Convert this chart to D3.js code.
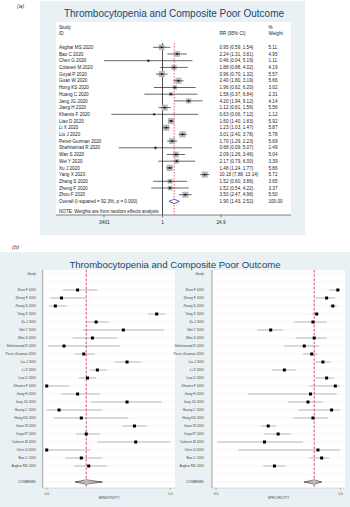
<!DOCTYPE html>
<html><head><meta charset="utf-8">
<script src="https://cdn.jsdelivr.net/npm/d3@7"></script>
<style>
html,body{margin:0;padding:0;background:#fff;}
svg{display:block;font-family:"Liberation Sans",Arial,sans-serif;}
</style></head>
<body>
<svg id="c" width="350" height="507"></svg>
<script>
// ---------- Panel (a) data ----------
const studiesA = ["Asghar MS 2020","Bao C 2020","Chen G 2020","Colaneri M 2020","Goyal P 2020","Guan W 2020","Hong KS 2020","Huang C 2020","Jang JG 2020","Jiang H 2020","Khamis F 2020","Liao D 2020","Li X 2020","Liu J 2020","Perez-Guzman 2020","Shahriarirad R 2020","Wan S 2020","Wei Y 2020","Xu J 2020","Yang X 2020","Zhang S 2020","Zheng F 2020","Zhou F 2020"];
const rr    = [0.95,2.24,0.46,1.88,0.96,2.40,1.96,1.58,4.20,1.12,0.63,1.60,1.23,3.01,1.70,0.68,2.09,2.17,1.48,10.18,1.52,1.52,3.50];
const rrLo  = [0.59,1.31,0.04,0.88,0.70,1.80,0.62,0.37,1.94,0.81,0.06,1.40,1.03,2.40,1.29,0.09,1.26,0.79,1.24,7.88,0.60,0.54,2.47];
const rrHi  = [1.54,3.81,5.19,4.02,1.32,3.19,6.20,6.84,9.12,1.56,7.12,1.83,1.47,3.78,2.23,5.07,3.46,6.00,1.77,13.14,3.86,4.22,4.96];
const weightA = [5.11,4.95,1.11,4.19,5.57,5.66,3.02,2.31,4.14,5.56,1.12,5.92,5.87,5.78,5.69,1.49,5.04,3.39,5.86,5.72,3.65,3.37,5.50];
const overallA = {label:"Overall  (I-squared = 92.3%, p = 0.000)", rr:1.90, lo:1.43, hi:2.52, w:"100.00"};
const ticksA = [0.0401, 1, 24.9];
const tickLabelsA = [".0401","1","24.9"];

// ---------- Panel (b) data (top to bottom) ----------
const studiesB = ["Zhou F 2020","Zheng F 2020","Zhang S 2020","Yang X 2020","Xu J 2020","Wei Y 2020","Wan S 2020","Shahriarirad R 2020","Perez-Guzman 2020","Liu J 2020","Li X 2020","Liao D 2020","Khamis F 2020","Jiang H 2020","Jang JG 2020","Huang C 2020","Hong KS 2020","Guan W 2020","Goyal P 2020","Colaneri M 2020","Chen G 2020","Bao C 2020","Asghar MS 2020"];
const sens   = [0.25,0.12,0.07,0.89,0.40,0.62,0.37,0.14,0.30,0.65,0.41,0.33,0.00,0.25,0.65,0.10,0.28,0.71,0.32,0.72,0.00,0.28,0.34];
const sensLo = [0.13,0.03,0.02,0.82,0.32,0.29,0.21,0.01,0.23,0.55,0.35,0.26,0.00,0.12,0.36,0.00,0.06,0.61,0.24,0.41,0.00,0.15,0.22];
const sensHi = [0.41,0.32,0.16,0.96,0.50,0.95,0.57,0.59,0.39,0.76,0.49,0.40,0.18,0.43,0.93,0.45,0.66,0.81,0.43,1.00,0.35,0.45,0.49];
const spec   = [0.98,0.89,0.94,0.81,0.78,0.44,0.79,0.71,0.77,0.86,0.55,0.89,0.96,0.76,0.74,0.93,0.78,0.42,0.50,0.39,0.82,0.85,0.47];
const specLo = [0.91,0.80,0.91,0.77,0.63,0.33,0.64,0.55,0.70,0.80,0.45,0.80,0.75,0.26,0.58,0.66,0.62,0.36,0.39,0.01,0.18,0.75,0.38];
const specHi = [1.00,0.96,0.97,0.83,0.89,0.54,0.89,0.83,0.82,0.92,0.64,0.95,1.00,0.97,0.86,1.00,0.90,0.48,0.60,0.70,1.00,0.91,0.56];
const combinedSens = {est:0.32, lo:0.23, hi:0.45};
const combinedSpec = {est:0.79, lo:0.71, hi:0.85};
const ticksB = [0, 1];
const tickLabelsB = ["0.0","1.0"];

const title = "Thrombocytopenia and Composite Poor Outcome";
const svg = d3.select("#c");
const bg = "#e9f1f4", navy = "#1a476f";

// ================= Panel (a) =================
svg.append("text").attr("x",17).attr("y",8).attr("font-size",6).attr("font-style","italic").attr("fill","#333").text("(a)");
svg.append("rect").attr("x",40).attr("y",1).attr("width",265).attr("height",234).attr("fill",bg);
svg.append("rect").attr("x",56).attr("y",22).attr("width",235).attr("height",193).attr("fill","#fff");
svg.append("text").attr("x",174).attr("y",16.5).attr("text-anchor","middle").attr("font-size",10).attr("fill",navy).text(title);

const xa = d3.scaleLog().domain([0.0401, 24.9]).range([104, 221]);
const ya = d3.scaleLinear().domain([0, 22]).range([47.3, 194.7]);
const fsA = 4.6;
const ga = svg.append("g");
// headers
ga.append("text").attr("x",59).attr("y",29).attr("font-size",fsA).attr("fill","#222").text("Study");
ga.append("text").attr("x",59).attr("y",35).attr("font-size",fsA).attr("fill","#222").text("ID");
ga.append("text").attr("x",219.5).attr("y",35).attr("font-size",fsA).attr("fill","#222").text("RR (95% CI)");
ga.append("text").attr("x",268.5).attr("y",29).attr("font-size",fsA).attr("fill","#222").text("%");
ga.append("text").attr("x",268.5).attr("y",35).attr("font-size",fsA).attr("fill","#222").text("Weight");

// reference lines
ga.append("line").attr("x1",xa(1)).attr("x2",xa(1)).attr("y1",43).attr("y2",215).attr("stroke","#000").attr("stroke-width",0.7);
ga.append("line").attr("x1",xa(overallA.rr)).attr("x2",xa(overallA.rr)).attr("y1",43).attr("y2",215)
  .attr("stroke","#d62728").attr("stroke-width",0.7).attr("stroke-dasharray","1.6,1.4");

const fmt = d3.format(".2f");
studiesA.forEach((s,i)=>{
  const y = ya(i);
  ga.append("text").attr("x",59).attr("y",y+1.6).attr("font-size",fsA).attr("fill","#222").text(s);
  ga.append("text").attr("x",219.5).attr("y",y+1.6).attr("font-size",fsA).attr("fill","#222")
    .text(`${fmt(rr[i])} (${fmt(rrLo[i])}, ${fmt(rrHi[i])})`);
  ga.append("text").attr("x",268.5).attr("y",y+1.6).attr("font-size",fsA).attr("fill","#222").text(fmt(weightA[i]));
  const side = 6.2*Math.sqrt(weightA[i]/5.92);
  ga.append("rect").attr("x",xa(rr[i])-side/2).attr("y",y-side/2).attr("width",side).attr("height",side).attr("fill","#b8b8b8");
  ga.append("line").attr("x1",xa(rrLo[i])).attr("x2",xa(rrHi[i])).attr("y1",y).attr("y2",y).attr("stroke","#000").attr("stroke-width",0.6);
  ga.append("circle").attr("cx",xa(rr[i])).attr("cy",y).attr("r",0.9).attr("fill","#000");
});
// overall
const yo = ya(23);
ga.append("text").attr("x",59).attr("y",yo+1.6).attr("font-size",fsA).attr("fill","#222").text(overallA.label);
ga.append("text").attr("x",219.5).attr("y",yo+1.6).attr("font-size",fsA).attr("fill","#222")
  .text(`${fmt(overallA.rr)} (${fmt(overallA.lo)}, ${fmt(overallA.hi)})`);
ga.append("text").attr("x",268.5).attr("y",yo+1.6).attr("font-size",fsA).attr("fill","#222").text(overallA.w);
ga.append("path").attr("d",`M${xa(overallA.lo)},${yo} L${xa(overallA.rr)},${yo-2.3} L${xa(overallA.hi)},${yo} L${xa(overallA.rr)},${yo+2.3} Z`)
  .attr("fill","#fff").attr("stroke","#1f3fa0").attr("stroke-width",0.8);
ga.append("text").attr("x",59).attr("y",212.5).attr("font-size",fsA).attr("fill","#222").text("NOTE: Weights are from random effects analysis");

// axis
ga.append("line").attr("x1",56).attr("x2",291).attr("y1",215).attr("y2",215).attr("stroke","#333").attr("stroke-width",0.6);
ticksA.forEach((t,i)=>{
  ga.append("line").attr("x1",xa(t)).attr("x2",xa(t)).attr("y1",215).attr("y2",217.5).attr("stroke","#333").attr("stroke-width",0.6);
  ga.append("text").attr("x",xa(t)).attr("y",223.5).attr("text-anchor","middle").attr("font-size",fsA).attr("fill","#222").text(tickLabelsA[i]);
});

// ================= Panel (b) =================
svg.append("text").attr("x",12).attr("y",249).attr("font-size",6).attr("font-style","italic").attr("fill","#333").text("(b)");
svg.append("rect").attr("x",0).attr("y",252).attr("width",350).attr("height",255).attr("fill",bg);
svg.append("text").attr("x",175).attr("y",267.5).attr("text-anchor","middle").attr("font-size",9.6).attr("fill",navy).text(title);

const yb = d3.scaleLinear().domain([0, 24]).range([290, 482]);
function forest(x0, x1, labelX, vals, lo, hi, comb, axisTitle){
  const x = d3.scaleLinear().domain([0,1]).range([x0+4, x1-4.7]);
  const g = svg.append("g");
  g.append("rect").attr("x",x0).attr("y",270).attr("width",x1-x0).attr("height",218).attr("fill","#fff");
  // gridlines
  d3.range(-2, 25).forEach(i=>{
    g.append("line").attr("x1",x0).attr("x2",x1).attr("y1",yb(i)).attr("y2",yb(i)).attr("stroke","#eceff0").attr("stroke-width",0.5);
  });
  g.append("line").attr("x1",x0).attr("x2",x0).attr("y1",270).attr("y2",488).attr("stroke","#9a9a9a").attr("stroke-width",0.9);
  g.append("line").attr("x1",x0).attr("x2",x1).attr("y1",488).attr("y2",488).attr("stroke","#bbb").attr("stroke-width",0.5);
  g.append("text").attr("x",labelX).attr("y",yb(-2)+1).attr("text-anchor","end").attr("font-size",3.3).attr("font-style","italic").attr("fill","#444").text("Study");
  // reference line
  g.append("line").attr("x1",x(comb.est)).attr("x2",x(comb.est)).attr("y1",270).attr("y2",488)
    .attr("stroke","#e4577f").attr("stroke-width",1.1).attr("stroke-dasharray","2.6,1.6");
  studiesB.forEach((s,i)=>{
    const y = yb(i);
    g.append("text").attr("x",labelX).attr("y",y+1.1).attr("text-anchor","end").attr("font-size",3.3).attr("fill","#444").text(s);
    g.append("line").attr("x1",x(lo[i])).attr("x2",x(hi[i])).attr("y1",y).attr("y2",y).attr("stroke","#8c8c8c").attr("stroke-width",0.6);
    g.append("rect").attr("x",x(vals[i])-1.5).attr("y",y-1.5).attr("width",3).attr("height",3).attr("fill","#000");
  });
  const yc = yb(24);
  g.append("text").attr("x",labelX).attr("y",yc+1.1).attr("text-anchor","end").attr("font-size",3.3).attr("fill","#444").text("COMBINED");
  g.append("path").attr("d",`M${x(comb.lo)},${yc} L${x(comb.est)},${yc-2.2} L${x(comb.hi)},${yc} L${x(comb.est)},${yc+2.2} Z`)
    .attr("fill","#e6e6e6").attr("stroke","#333").attr("stroke-width",0.6);
  g.append("line").attr("x1",x(comb.lo)).attr("x2",x(comb.hi)).attr("y1",yc).attr("y2",yc).attr("stroke","#333").attr("stroke-width",0.5);
  ticksB.forEach((t,i)=>{
    g.append("line").attr("x1",x(t)).attr("x2",x(t)).attr("y1",488).attr("y2",490).attr("stroke","#777").attr("stroke-width",0.5);
    g.append("text").attr("x",x(t)).attr("y",494.8).attr("text-anchor","middle").attr("font-size",3.3).attr("fill","#444").text(tickLabelsB[i]);
  });
  g.append("text").attr("x",(x0+x1)/2).attr("y",499).attr("text-anchor","middle").attr("font-size",3.5).attr("fill","#444").text(axisTitle);
}
forest(42.7, 175, 36, sens, sensLo, sensHi, combinedSens, "SENSITIVITY");
forest(212, 345, 204, spec, specLo, specHi, combinedSpec, "SPECIFICITY");
</script>
</body></html>
